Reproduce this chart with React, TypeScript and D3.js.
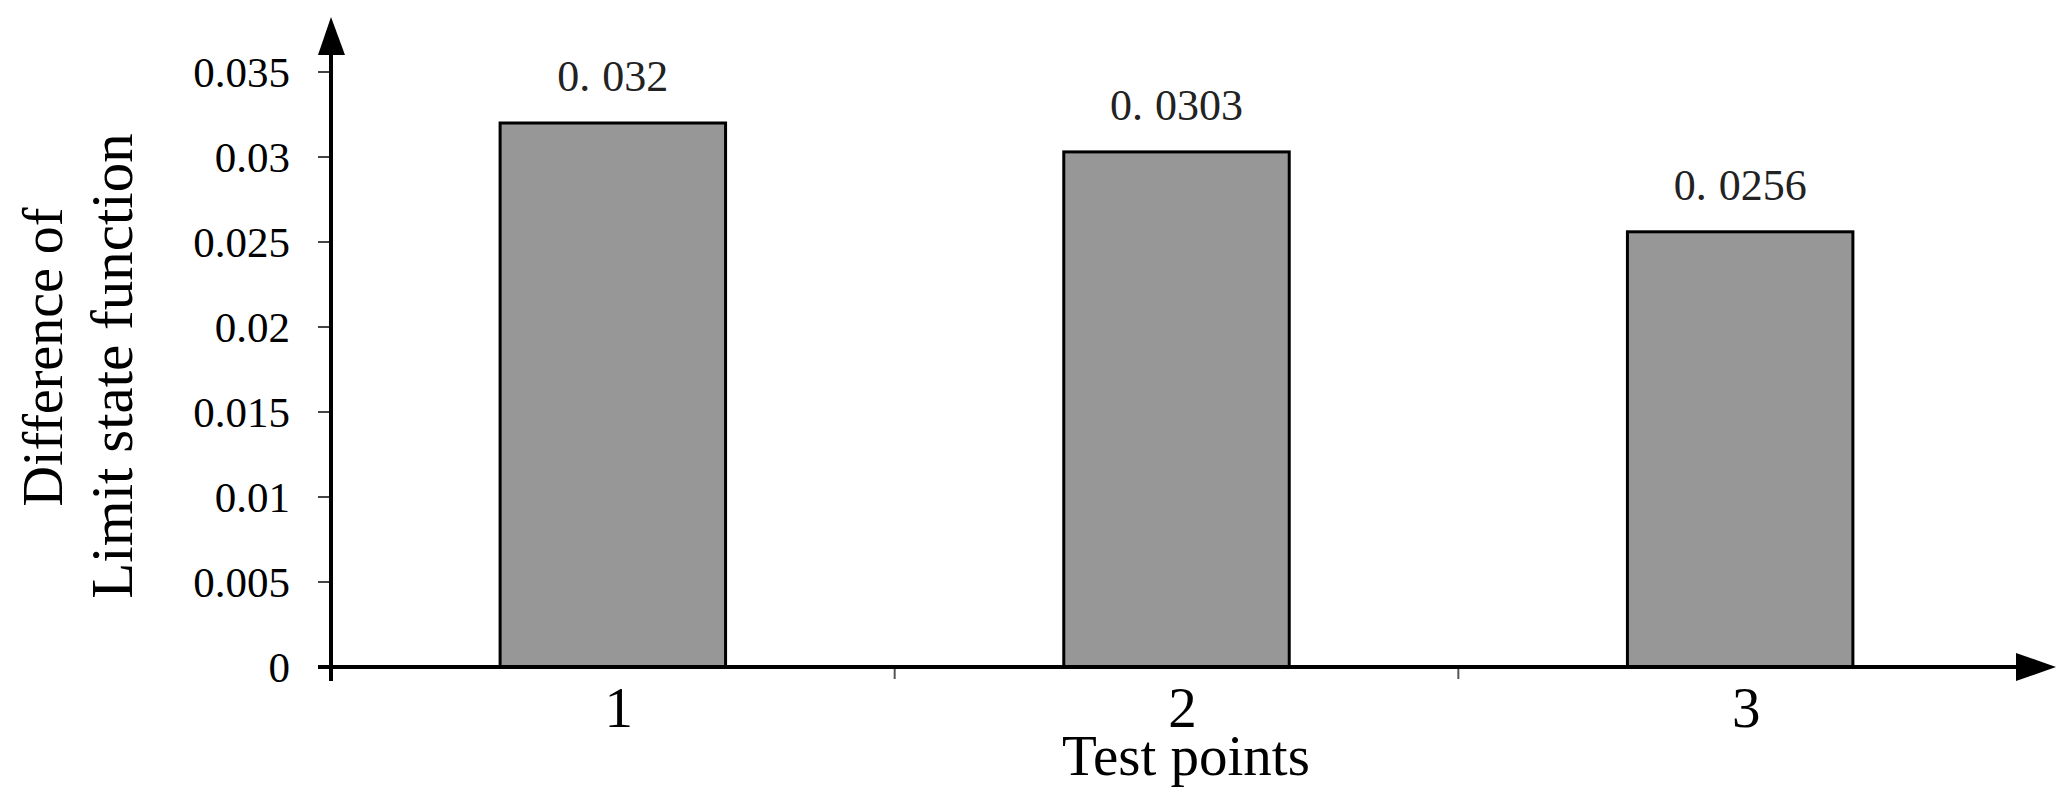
import React from "react";
import * as d3 from "d3";

const categories = ["1", "2", "3"];
const values = [0.032, 0.0303, 0.0256];
const valueLabels = [["0.", "032"], ["0.", "0303"], ["0.", "0256"]];
const yTicks = [0, 0.005, 0.01, 0.015, 0.02, 0.025, 0.03, 0.035];
const yTickLabels = ["0", "0.005", "0.01", "0.015", "0.02", "0.025", "0.03", "0.035"];
const xTitle = "Test points";
const yTitleLines = ["Difference of", "Limit state function"];

const W = 2063;
const H = 800;
const X0 = 331;
const X1 = 2022;
const Y0 = 667;

export default function App() {
  const x = d3
    .scaleBand<string>()
    .domain(categories)
    .range([X0, X1])
    .paddingInner(0.6)
    .paddingOuter(0.3);
  const y = d3.scaleLinear().domain([0, 0.035]).range([Y0, 72]);
  const step = x.step();
  const boundaries = categories.slice(1).map((c) => (x(c) as number) - (x.paddingInner() * step) / 2);
  const serif = "'Liberation Serif', 'Times New Roman', serif";

  return (
    <svg
      width={W}
      height={H}
      style={{ position: "absolute", left: 0, top: 0, background: "#fff" }}
      fontFamily={serif}
    >
      <rect x={0} y={0} width={W} height={H} fill="#fff" />
      {/* bars */}
      {categories.map((c, i) => (
        <rect
          key={c}
          x={x(c)}
          y={y(values[i])}
          width={x.bandwidth()}
          height={Y0 - y(values[i])}
          fill="#979797"
          stroke="#000"
          strokeWidth={3}
        />
      ))}
      {/* value labels */}
      {categories.map((c, i) => (
        <text
          key={"v" + c}
          x={(x(c) as number) + x.bandwidth() / 2}
          y={y(values[i]) - 32}
          textAnchor="middle"
          fontSize={44}
          fill="#222"
        >
          <tspan>{valueLabels[i][0]}</tspan>
          <tspan dx={12}>{valueLabels[i][1]}</tspan>
        </text>
      ))}
      {/* y ticks */}
      {yTicks.map((t, i) => (
        <g key={"yt" + i}>
          <line x1={318} x2={X0} y1={y(t)} y2={y(t)} stroke="#444" strokeWidth={2} />
          <text x={290} y={y(t)} dy="0.35em" textAnchor="end" fontSize={43} fill="#000">
            {yTickLabels[i]}
          </text>
        </g>
      ))}
      {/* x ticks at category boundaries */}
      {boundaries.map((b, i) => (
        <line key={"xt" + i} x1={b} x2={b} y1={Y0} y2={679} stroke="#555" strokeWidth={2} />
      ))}
      {/* axes */}
      <line x1={318} x2={2018} y1={Y0} y2={Y0} stroke="#000" strokeWidth={4} />
      <polygon points={`2016,653 2056,${Y0} 2016,681`} fill="#000" />
      <line x1={X0} x2={X0} y1={681} y2={52} stroke="#000" strokeWidth={4} />
      <polygon points={`318,55 ${X0},17 345,55`} fill="#000" />
      {/* x tick labels */}
      {categories.map((c) => (
        <text
          key={"xl" + c}
          x={(x(c) as number) + x.bandwidth() / 2 + 6}
          y={727}
          textAnchor="middle"
          fontSize={57}
          fill="#000"
        >
          {c}
        </text>
      ))}
      {/* axis titles */}
      <text x={1186} y={775} textAnchor="middle" fontSize={57} fill="#000">
        {xTitle}
      </text>
      <text
        transform={`translate(62,357) rotate(-90)`}
        textAnchor="middle"
        fontSize={56}
        fill="#000"
      >
        {yTitleLines[0]}
      </text>
      <text
        transform={`translate(132,366) rotate(-90)`}
        textAnchor="middle"
        fontSize={59}
        fill="#000"
      >
        {yTitleLines[1]}
      </text>
    </svg>
  );
}
